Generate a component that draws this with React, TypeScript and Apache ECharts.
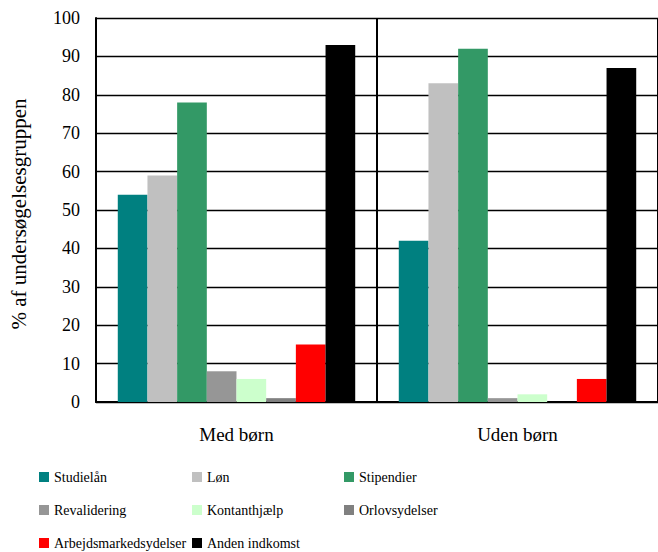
import React, { useEffect, useRef } from "react";
import * as echarts from "echarts";

const categories = ["Med børn", "Uden børn"];
const seriesNames = [
  "Studielån",
  "Løn",
  "Stipendier",
  "Revalidering",
  "Kontanthjælp",
  "Orlovsydelser",
  "Arbejdsmarkedsydelser",
  "Anden indkomst",
];
const studielaan = [54, 42];
const loen = [59, 83];
const stipendier = [78, 92];
const revalidering = [8, 1];
const kontanthjaelp = [6, 2];
const orlovsydelser = [1, 0];
const arbejdsmarkedsydelser = [15, 6];
const andenIndkomst = [93, 87];
const seriesValues = [
  studielaan,
  loen,
  stipendier,
  revalidering,
  kontanthjaelp,
  orlovsydelser,
  arbejdsmarkedsydelser,
  andenIndkomst,
];
const colors = ["#008080", "#C0C0C0", "#339966", "#969696", "#CCFFCC", "#808080", "#FF0000", "#000000"];
const yTicks = [0, 10, 20, 30, 40, 50, 60, 70, 80, 90, 100];
const yTitle = "% af undersøgelsesgruppen";

const FONT = "Liberation Serif";

export default function App() {
  const ref = useRef<HTMLDivElement>(null);
  useEffect(() => {
    if (!ref.current) return;
    const chart = echarts.init(ref.current, undefined, { renderer: "svg" });
    const legendCol = (names: string[], left: number) => ({
      data: names,
      orient: "vertical" as const,
      left,
      top: 470,
      height: 100,
      padding: 0,
      itemWidth: 10,
      itemHeight: 10,
      itemGap: 19,
      icon: "rect",
      selectedMode: false,
      textStyle: { fontFamily: FONT, fontSize: 14, color: "#000" },
    });
    chart.setOption({
      animation: false,
      textStyle: { fontFamily: FONT },
      grid: { left: 96, right: -6, top: 18, bottom: 150, containLabel: false },
      legend: [
        legendCol([seriesNames[0], seriesNames[3], seriesNames[6]], 39),
        legendCol([seriesNames[1], seriesNames[4], seriesNames[7]], 192),
        legendCol([seriesNames[2], seriesNames[5]], 344),
      ],
      xAxis: {
        type: "category",
        data: categories,
        axisLine: { show: true, lineStyle: { color: "#000", width: 2 } },
        axisTick: { show: false },
        splitLine: { show: true, lineStyle: { color: "#000", width: 2 } },
        axisLabel: { fontFamily: FONT, fontSize: 19, color: "#000", margin: 23 },
      },
      yAxis: {
        type: "value",
        min: yTicks[0],
        max: yTicks[yTicks.length - 1],
        interval: 10,
        name: yTitle,
        nameLocation: "middle",
        nameGap: 67,
        nameRotate: 90,
        nameTextStyle: { fontFamily: FONT, fontSize: 21, color: "#000", padding: [0, 0, 0, -8] },
        axisLine: { show: true, lineStyle: { color: "#000", width: 2 } },
        axisTick: { show: false },
        splitLine: { show: true, lineStyle: { color: "#000", width: 1.3 } },
        axisLabel: { fontFamily: FONT, fontSize: 18, color: "#000", margin: 16 },
      },
      series: seriesNames.map((name, i) => ({
        name,
        type: "bar",
        data: seriesValues[i],
        barGap: "0%",
        barCategoryGap: "15.5%",
        itemStyle: { color: colors[i] },
      })),
    });
    return () => chart.dispose();
  }, []);
  return (
    <div
      ref={ref}
      style={{ position: "absolute", left: 0, top: 0, width: 658, height: 552, background: "#fff" }}
    />
  );
}
